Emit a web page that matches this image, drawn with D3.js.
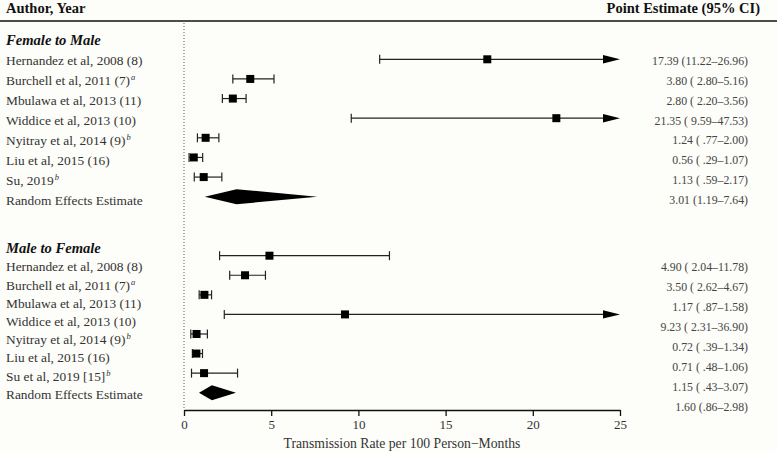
<!DOCTYPE html>
<html><head><meta charset="utf-8">
<script src="https://cdn.jsdelivr.net/npm/d3@7"></script>
<style>
html,body{margin:0;padding:0;background:#fdfdf9;}
svg{display:block;font-family:"Liberation Serif","DejaVu Serif",serif;}
</style></head>
<body><svg id="c" width="777" height="452"></svg>
<script>
// ---------- data ----------
const ftmStudies = ["Hernandez et al, 2008 (8)", "Burchell et al, 2011 (7)", "Mbulawa et al, 2013 (11)", "Widdice et al, 2013 (10)", "Nyitray et al, 2014 (9)", "Liu et al, 2015 (16)", "Su, 2019"];
const ftmSup = ["", "a", "", "", "b", "", "b"];
const ftmEst = [17.39, 3.80, 2.80, 21.35, 1.24, 0.56, 1.13];
const ftmLo  = [11.22, 2.80, 2.20, 9.59, 0.77, 0.29, 0.59];
const ftmHi  = [26.96, 5.16, 3.56, 47.53, 2.00, 1.07, 2.17];
const ftmRE  = [3.01, 1.19, 7.64];
const ftmText = ["17.39 (11.22–26.96)", "3.80 ( 2.80–5.16)", "2.80 ( 2.20–3.56)", "21.35 ( 9.59–47.53)", "1.24 ( .77–2.00)", "0.56 ( .29–1.07)", "1.13 ( .59–2.17)", "3.01 (1.19–7.64)"];

const mtfStudies = ["Hernandez et al, 2008 (8)", "Burchell et al, 2011 (7)", "Mbulawa et al, 2013 (11)", "Widdice et al, 2013 (10)", "Nyitray et al, 2014 (9)", "Liu et al, 2015 (16)", "Su et al, 2019 [15]"];
const mtfSup = ["", "a", "", "", "b", "", "b"];
const mtfEst = [4.90, 3.50, 1.17, 9.23, 0.72, 0.71, 1.15];
const mtfLo  = [2.04, 2.62, 0.87, 2.31, 0.39, 0.48, 0.43];
const mtfHi  = [11.78, 4.67, 1.58, 36.90, 1.34, 1.06, 3.07];
const mtfRE  = [1.60, 0.86, 2.98];
const mtfText = ["4.90 ( 2.04–11.78)", "3.50 ( 2.62–4.67)", "1.17 ( .87–1.58)", "9.23 ( 2.31–36.90)", "0.72 ( .39–1.34)", "0.71 ( .48–1.06)", "1.15 ( .43–3.07)", "1.60 (.86–2.98)"];

const xTicks = [0, 5, 10, 15, 20, 25];
const groupTitles = ["Female to Male", "Male to Female"];
const reLabel = "Random Effects Estimate";
const xTitle = "Transmission Rate per 100 Person\u2212Months";
const headLeft = "Author, Year", headRight = "Point Estimate (95% CI)";

// ---------- layout ----------
const svg = d3.select("#c");
const x = d3.scaleLinear().domain([0, 25]).range([184, 620]);
const xMax = 25;

const groups = [
  {title: groupTitles[0], studies: ftmStudies, sup: ftmSup, est: ftmEst, lo: ftmLo, hi: ftmHi, re: ftmRE, text: ftmText,
   titleY: 40, yLab: d3.scaleLinear().domain([0, 7]).range([60, 200]),
   yMark: d3.scaleLinear().domain([0, 7]).range([59.3, 196.7]),
   yTxt: d3.scaleLinear().domain([0, 7]).range([60.7, 200])},
  {title: groupTitles[1], studies: mtfStudies, sup: mtfSup, est: mtfEst, lo: mtfLo, hi: mtfHi, re: mtfRE, text: mtfText,
   titleY: 248, yLab: d3.scaleLinear().domain([0, 7]).range([266.7, 394]),
   yMark: d3.scaleLinear().domain([0, 7]).range([255.7, 392.7]),
   yTxt: d3.scaleLinear().domain([0, 7]).range([266.7, 407])}
];

// header
svg.append("text").attr("x", 6).attr("y", 7.5).attr("dy", "0.35em")
  .attr("font-size", 14.5).attr("font-weight", "bold").attr("fill", "#111").text(headLeft);
svg.append("text").attr("x", 760).attr("y", 7.5).attr("dy", "0.35em").attr("text-anchor", "end")
  .attr("font-size", 14.5).attr("font-weight", "bold").attr("fill", "#111").text(headRight);
svg.append("line").attr("x1", 0).attr("x2", 777).attr("y1", 21).attr("y2", 21)
  .attr("stroke", "#111").attr("stroke-width", 1.5);

// null line
svg.append("line").attr("x1", x(0)).attr("x2", x(0)).attr("y1", 23).attr("y2", 410)
  .attr("stroke", "#555").attr("stroke-width", 1).attr("stroke-dasharray", "1,2");

groups.forEach(g => {
  svg.append("text").attr("x", 6).attr("y", g.titleY).attr("dy", "0.35em")
    .attr("font-size", 14.6).attr("font-weight", "bold").attr("font-style", "italic").attr("fill", "#111").text(g.title);

  // labels
  const labels = g.studies.concat([reLabel]);
  labels.forEach((s, i) => {
    const t = svg.append("text").attr("x", 6).attr("y", g.yLab(i)).attr("dy", "0.35em")
      .attr("font-size", 13.4).attr("fill", "#333");
    t.append("tspan").text(s);
    if (i < g.sup.length && g.sup[i]) {
      t.append("tspan").attr("font-size", 8.5).attr("font-style", "italic").attr("dy", "-0.55em").attr("dx", 1).text(g.sup[i]);
    }
  });

  // right text
  g.text.forEach((s, i) => {
    svg.append("text").attr("x", 748).attr("y", g.yTxt(i)).attr("dy", "0.35em").attr("text-anchor", "end")
      .attr("font-size", 11.8).attr("fill", "#444").style("white-space", "pre").text(s);
  });

  // study marks
  g.est.forEach((e, i) => {
    const y = g.yMark(i);
    const over = g.hi[i] > xMax;
    const xr = over ? x(xMax) : x(g.hi[i]);
    svg.append("line").attr("x1", x(g.lo[i])).attr("x2", over ? xr - 12 : xr).attr("y1", y).attr("y2", y)
      .attr("stroke", "#222").attr("stroke-width", 1.2);
    svg.append("line").attr("x1", x(g.lo[i])).attr("x2", x(g.lo[i])).attr("y1", y - 4.5).attr("y2", y + 4.5)
      .attr("stroke", "#222").attr("stroke-width", 1.2);
    if (over) {
      svg.append("path").attr("d", `M${xr - 17},${y - 4.2}L${xr},${y}L${xr - 17},${y + 4.2}Z`).attr("fill", "#000");
    } else {
      svg.append("line").attr("x1", xr).attr("x2", xr).attr("y1", y - 4.5).attr("y2", y + 4.5)
        .attr("stroke", "#222").attr("stroke-width", 1.2);
    }
    svg.append("rect").attr("x", x(e) - 4).attr("y", y - 4).attr("width", 8).attr("height", 8).attr("fill", "#000");
  });

  // diamond
  const yd = g.yMark(7);
  const [m, lo, hi] = g.re;
  svg.append("path").attr("d", `M${x(lo)},${yd}L${x(m)},${yd - 7.5}L${x(hi)},${yd}L${x(m)},${yd + 7.5}Z`).attr("fill", "#000");
});

// axis
const ax = svg.append("g").attr("transform", "translate(0,410)")
  .call(d3.axisBottom(x).tickValues(xTicks).tickSize(6).tickSizeOuter(0).tickFormat(d3.format("d")));
ax.select(".domain").attr("stroke", "#111").attr("stroke-width", 1.3);
ax.selectAll(".tick line").attr("stroke", "#111").attr("stroke-width", 1.3);
ax.selectAll(".tick text").attr("font-family", "Liberation Serif, DejaVu Serif, serif").attr("font-size", 13).attr("fill", "#333").attr("y", 10);

svg.append("text").attr("x", (x(0) + x(25)) / 2).attr("y", 443).attr("dy", "0.35em").attr("text-anchor", "middle")
  .attr("font-size", 13.7).attr("fill", "#333").text(xTitle);
</script></body></html>
